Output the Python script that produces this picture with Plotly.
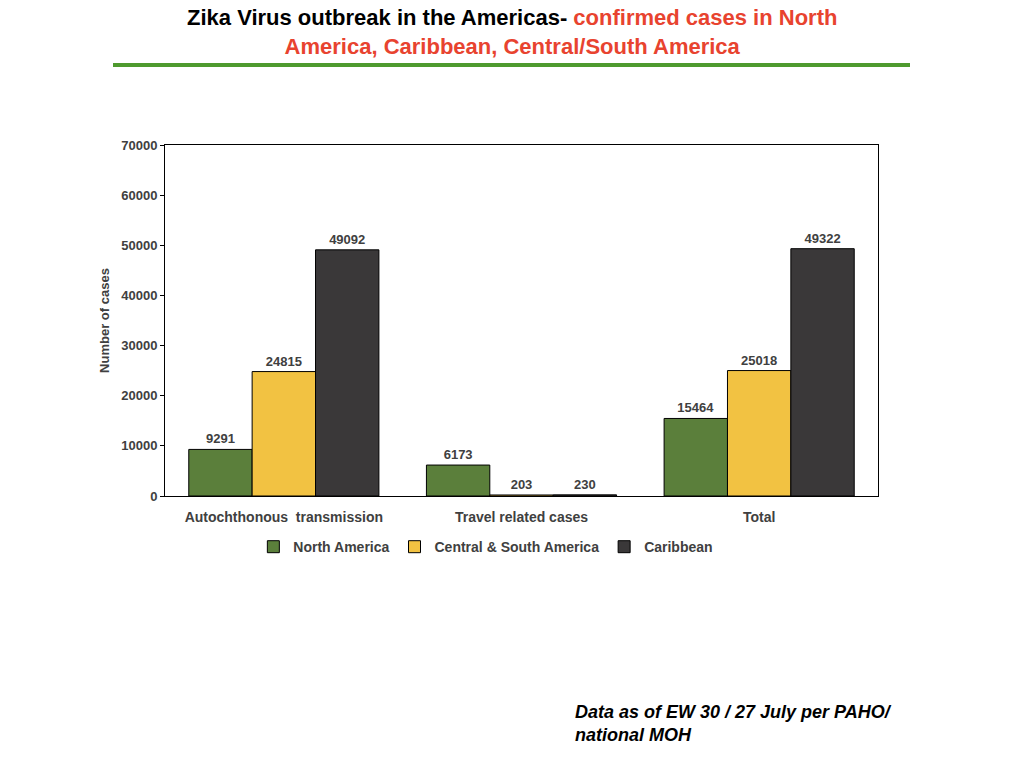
import plotly.graph_objects as go

categories = ['Autochthonous  transmission', 'Travel related cases', 'Total']
north_america = [9291, 6173, 15464]
central_south = [24815, 203, 25018]
caribbean = [49092, 230, 49322]

series = [
    ('North America', north_america, '#5b7f3b'),
    ('Central & South America', central_south, '#f2c242'),
    ('Caribbean', caribbean, '#3a3839'),
]

FONT = 'Liberation Sans, Arial'

fig = go.Figure()
for name, vals, color in series:
    fig.add_trace(go.Bar(
        x=categories, y=vals, name='<b>' + name + '</b>',
        marker=dict(color=color, line=dict(color='black', width=1)),
        text=vals, texttemplate='<b>%{text}</b>', textposition='outside', cliponaxis=False,
        textfont=dict(size=13, color='#404040', family=FONT),
    ))

fig.update_layout(
    width=1024, height=768,
    paper_bgcolor='white', plot_bgcolor='white',
    font=dict(family=FONT, color='#404040'),
    barmode='group', bargap=0.2, bargroupgap=0,
    margin=dict(l=157, r=154, t=137, b=280),
    legend=dict(orientation='h', x=0.45, xanchor='center', y=-0.1, yanchor='top',
                font=dict(size=14, color='#404040'), itemwidth=30,
                tracegroupgap=0, traceorder='normal'),
    xaxis=dict(showline=True, linecolor='black', mirror=True,
               ticks='outside', ticklen=8, tickcolor='rgba(0,0,0,0)',
               tickprefix='<b>', ticksuffix='</b>',
               tickfont=dict(size=14, color='#404040')),
    yaxis=dict(range=[0, 70000], dtick=10000, tickformat='d', showline=True,
               linecolor='black', mirror=True, showgrid=False,
               ticks='outside', ticklen=4, tickcolor='black',
               tickprefix='<b>', ticksuffix='</b>',
               tickfont=dict(size=13, color='#404040'),
               title=dict(text='<b>Number of cases</b>', font=dict(size=13, color='#404040'), standoff=8)),
    shapes=[dict(type='line', xref='paper', yref='paper',
                 x0=-52 / 713, x1=745 / 713, y0=1 + 80 / 351, y1=1 + 80 / 351,
                 line=dict(color='#4e9a2e', width=4))],
    annotations=[
        dict(text="<b>Zika Virus outbreak in the Americas- <span style='color:#e8432f'>confirmed cases in North</span><br>"
                  "<span style='color:#e8432f'>America, Caribbean, Central/South America</span></b>",
             xref='paper', yref='paper', x=(512 - 165) / 713, y=1 + (145 - 3) / 351,
             xanchor='center', yanchor='top', align='center', showarrow=False,
             font=dict(size=22, color='black', family=FONT)),
        dict(text='<b><i>Data as of EW 30 / 27 July per PAHO/<br>national MOH</i></b>',
             xref='paper', yref='paper', x=(573 - 165) / 713, y=-(700 - 496) / 351,
             xanchor='left', yanchor='top', align='left', showarrow=False,
             font=dict(size=18, color='black')),
    ],
)
fig.write_html('out.html')
